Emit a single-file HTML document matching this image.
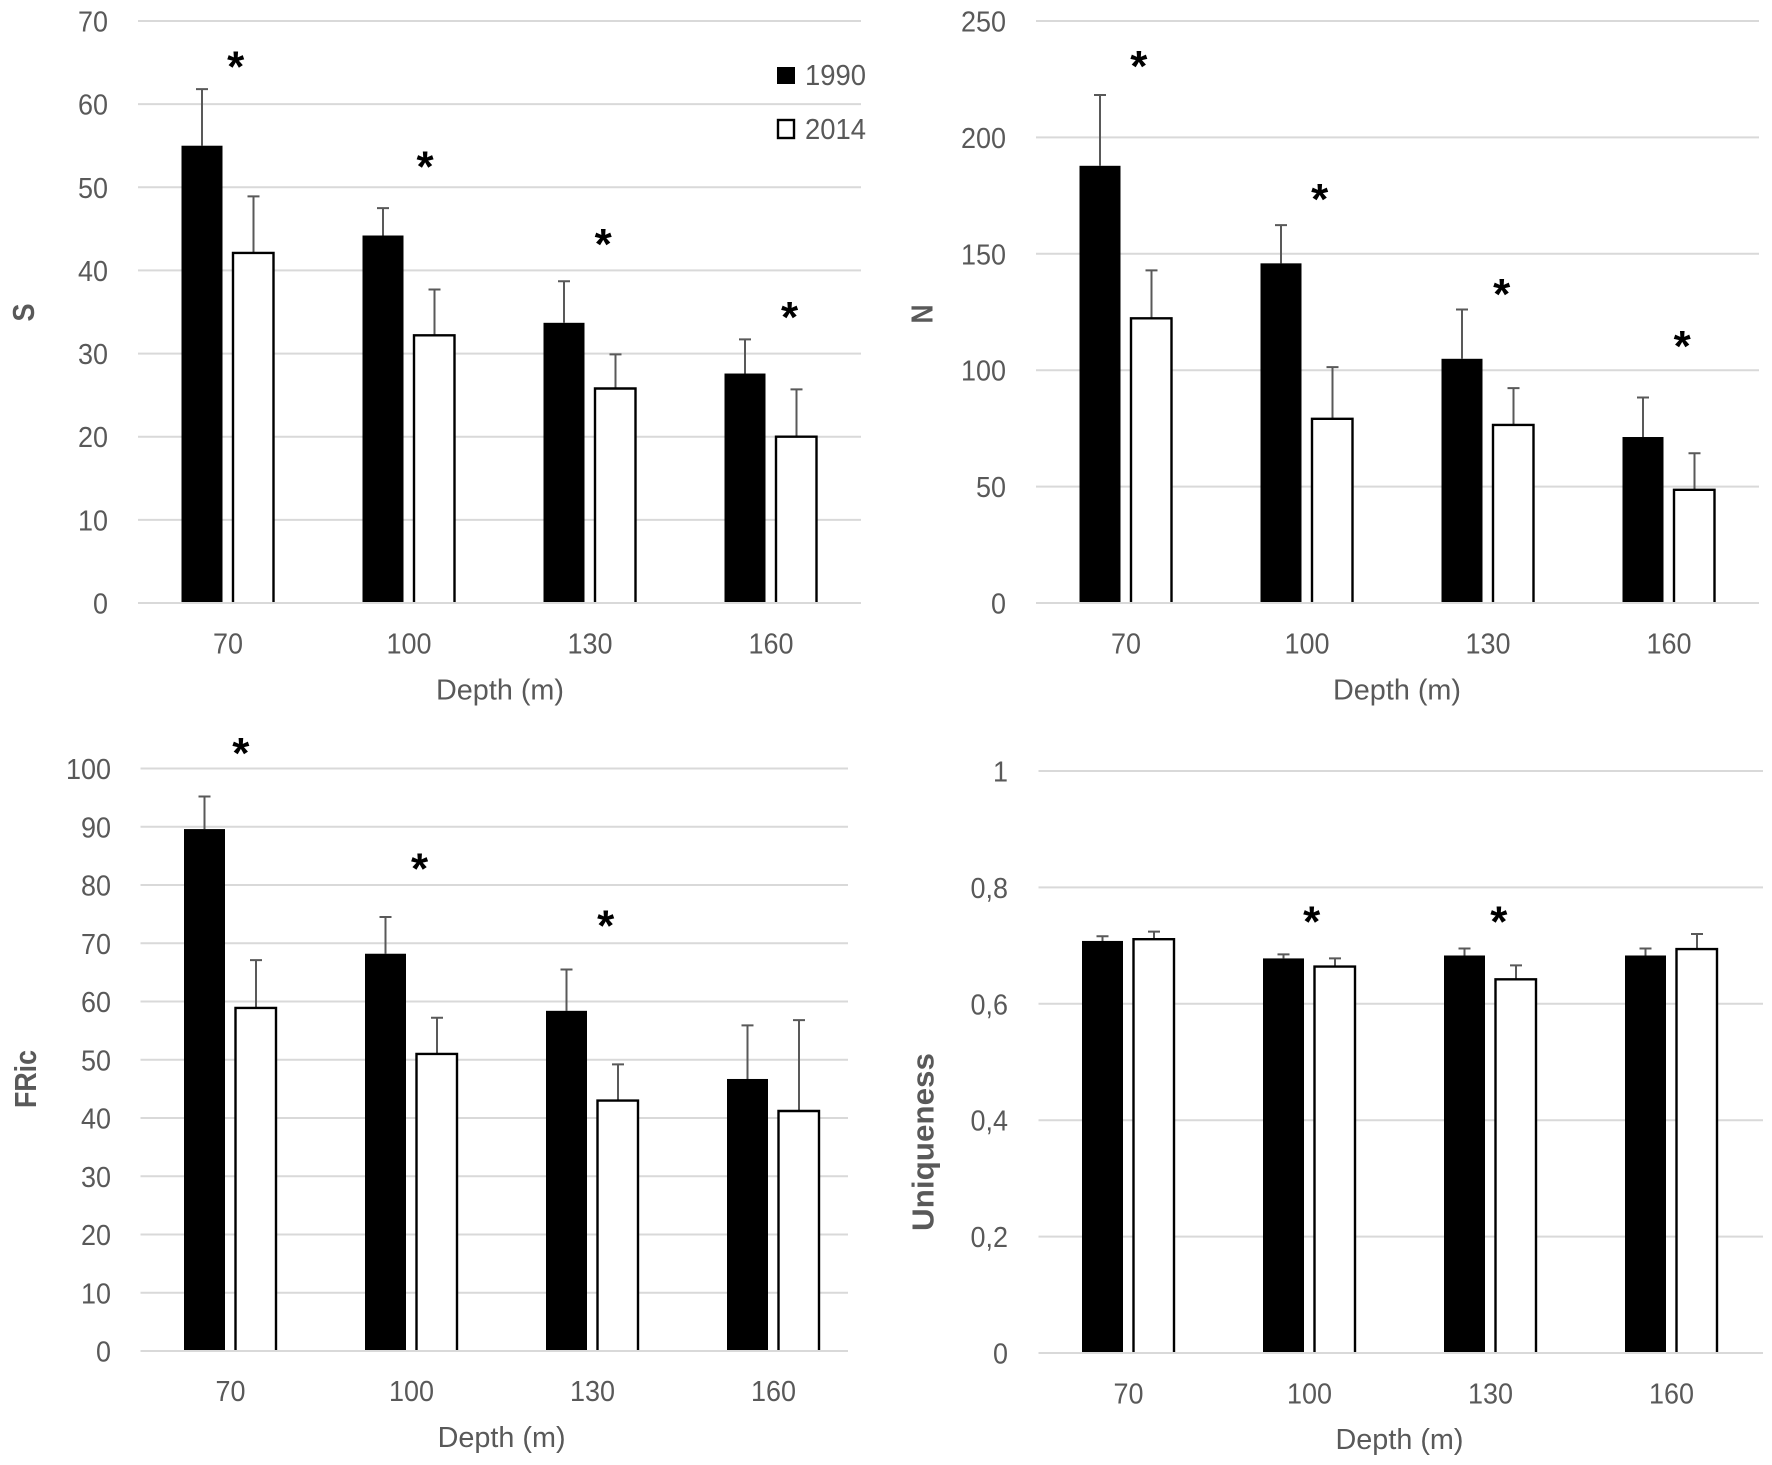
<!DOCTYPE html>
<html lang="en">
<head>
<meta charset="utf-8">
<title>Depth comparison, 1990 vs 2014</title>
<style>
html,body{margin:0;padding:0;background:#fff;}
svg{display:block;}
text{font-family:"Liberation Sans",sans-serif;fill:#595959;}
</style>
</head>
<body>
<svg id="chart" xmlns="http://www.w3.org/2000/svg" width="1772" height="1465" viewBox="0 0 1772 1465">
  <rect x="0" y="0" width="1772" height="1465" fill="#fff"/>
</svg>
<script>
// Shared category labels
const depthCategories = ["70", "100", "130", "160"];

// Panel S
const sTicks = [0, 10, 20, 30, 40, 50, 60, 70];
const sTickLabels = ["0", "10", "20", "30", "40", "50", "60", "70"];
const s1990 = [55.0, 44.2, 33.7, 27.6];
const s2014 = [42.1, 32.2, 25.8, 20.0];
const s1990ErrorTop = [61.8, 47.5, 38.7, 31.7];
const s2014ErrorTop = [48.9, 37.7, 29.9, 25.7];
const sMarkerCategory = [0.04, 1.086, 2.07, 3.10];
const sMarkerValue = [65.1, 53.1, 43.8, 35.0];

// Panel N
const nTicks = [0, 50, 100, 150, 200, 250];
const nTickLabels = ["0", "50", "100", "150", "200", "250"];
const n1990 = [187.8, 145.9, 104.9, 71.3];
const n2014 = [122.3, 79.1, 76.5, 48.6];
const n1990ErrorTop = [218.2, 162.3, 126.1, 88.3];
const n2014ErrorTop = [142.9, 101.3, 92.3, 64.3];
const nMarkerCategory = [0.068, 1.067, 2.073, 3.07];
const nMarkerValue = [232.8, 175.6, 134.8, 112.6];

// Panel FRic
const fTicks = [0, 10, 20, 30, 40, 50, 60, 70, 80, 90, 100];
const fTickLabels = ["0", "10", "20", "30", "40", "50", "60", "70", "80", "90", "100"];
const f1990 = [89.6, 68.2, 58.4, 46.7];
const f2014 = [58.9, 51.0, 43.0, 41.2];
const f1990ErrorTop = [95.2, 74.5, 65.5, 55.9];
const f2014ErrorTop = [67.1, 57.2, 49.2, 56.8];
const fMarkerCategory = [0.054, 1.042, 2.07];
const fMarkerValue = [103.5, 83.7, 73.9];

// Panel Uniqueness
const uTicks = [0, 0.2, 0.4, 0.6, 0.8, 1];
const uTickLabels = ["0", "0,2", "0,4", "0,6", "0,8", "1"];
const u1990 = [0.708, 0.678, 0.683, 0.683];
const u2014 = [0.711, 0.664, 0.642, 0.694];
const u1990ErrorTop = [0.716, 0.685, 0.695, 0.695];
const u2014ErrorTop = [0.724, 0.678, 0.666, 0.720];
const uMarkerCategory = [1.009, 2.043];
const uMarkerValue = [0.750, 0.750];

const svg = document.getElementById('chart');
const NS = 'http://www.w3.org/2000/svg';
const GREY = '#595959';

function make(tag, parent, attrs) {
  const el = document.createElementNS(NS, tag);
  for (const k in attrs) el.setAttribute(k, attrs[k]);
  parent.appendChild(el);
  return el;
}

// Labels are condensed to mimic the narrow original typeface.
function labelWidth(str) {
  let w = 0;
  for (const ch of str) w += (ch === ',') ? 7.5 : 15;
  return w;
}

function drawPanel(cfg) {
  const group = make('g', svg, {});
  
  

  const maxTick = Math.max.apply(null, cfg.ticks);
  const yScale = v => cfg.zeroY - (v / maxTick) * (cfg.zeroY - cfg.topY);
  const xCenter = i => cfg.left + cfg.band / 2 + i * cfg.band;

  // gridlines and y tick labels
  cfg.ticks.forEach((t, i) => {
    const line = make('line', group, {x1: cfg.left, x2: cfg.right, y1: yScale(t), y2: yScale(t), stroke: '#d9d9d9', 'stroke-width': 2});
    
    
    const label = make('text', group, {x: cfg.tickRight, y: yScale(t) + 10.5, 'text-anchor': 'end', 'font-size': 29, textLength: labelWidth(cfg.tickLabels[i]), lengthAdjust: 'spacingAndGlyphs'});
    
    
    label.textContent = cfg.tickLabels[i];
  });

  const barBase = cfg.zeroY - 1;
  depthCategories.forEach((cat, i) => {
    const c = xCenter(i);
    // 1990 error bar + bar
    const ex1 = c - 26.5;
    const stem1 = make('path', group, {d: 'M' + ex1 + ' ' + yScale(cfg.v1990[i]) + 'V' + yScale(cfg.e1990[i]) + 'M' + (ex1 - 6) + ' ' + yScale(cfg.e1990[i]) + 'H' + (ex1 + 6), stroke: GREY, 'stroke-width': 2, fill: 'none'});
    
    
    const bar1 = make('rect', group, {x: c - 47, y: yScale(cfg.v1990[i]), width: 41, height: barBase - yScale(cfg.v1990[i]), fill: '#000'});
    
    
    // 2014 error bar + bar
    const ex2 = c + 25;
    const stem2 = make('path', group, {d: 'M' + ex2 + ' ' + yScale(cfg.v2014[i]) + 'V' + yScale(cfg.e2014[i]) + 'M' + (ex2 - 6) + ' ' + yScale(cfg.e2014[i]) + 'H' + (ex2 + 6), stroke: GREY, 'stroke-width': 2, fill: 'none'});
    
    
    const top2 = yScale(cfg.v2014[i]);
    const bar2 = make('path', group, {d: 'M' + (c + 4.5) + ' ' + barBase + 'V' + top2 + 'H' + (c + 45) + 'V' + barBase, fill: '#fff', stroke: '#000', 'stroke-width': 2.4});
    
    
    // x tick label
    const xl = make('text', group, {x: c - 0.5, y: cfg.xTickY + 10.2, 'text-anchor': 'middle', 'font-size': 29, textLength: labelWidth(cat), lengthAdjust: 'spacingAndGlyphs'});
    
    
    xl.textContent = cat;
  });

  // significance markers
  cfg.markerCategory.forEach((m, i) => {
    const star = make('text', group, {x: xCenter(m), y: yScale(cfg.markerValue[i]) + 20, 'text-anchor': 'middle', 'font-size': 44, 'font-weight': 'bold', style: 'fill:#000'});
    
    
    star.textContent = '*';
  });

  // x axis title
  const xt = make('text', group, {x: cfg.xTitleX, y: cfg.xTitleY + 9, 'text-anchor': 'middle', 'font-size': 29, textLength: 128, lengthAdjust: 'spacingAndGlyphs'});
  
  
  xt.textContent = 'Depth (m)';

  // y axis title
  const yt = make('text', group, {transform: 'translate(' + cfg.yTitleX + ' ' + cfg.yTitleY + ') rotate(-90)', 'text-anchor': 'middle', 'font-size': 31, 'font-weight': 'bold', y: 11, textLength: cfg.yTitleLength, lengthAdjust: 'spacingAndGlyphs'});
  
  
  yt.textContent = cfg.yTitle;
}

drawPanel({key: 's', yTitle: 'S', ticks: sTicks, tickLabels: sTickLabels, v1990: s1990, v2014: s2014, e1990: s1990ErrorTop, e2014: s2014ErrorTop, markerCategory: sMarkerCategory, markerValue: sMarkerValue,
  left: 138, right: 861, band: 181, topY: 21, zeroY: 603, tickRight: 108, xTickY: 643.3, xTitleX: 500, xTitleY: 690.5, yTitleX: 23, yTitleY: 312.5, yTitleLength: 18});
drawPanel({key: 'n', yTitle: 'N', ticks: nTicks, tickLabels: nTickLabels, v1990: n1990, v2014: n2014, e1990: n1990ErrorTop, e2014: n2014ErrorTop, markerCategory: nMarkerCategory, markerValue: nMarkerValue,
  left: 1036, right: 1759, band: 181, topY: 21, zeroY: 603, tickRight: 1006, xTickY: 643.3, xTitleX: 1397, xTitleY: 690.5, yTitleX: 921.4, yTitleY: 314, yTitleLength: 19});
drawPanel({key: 'fric', yTitle: 'FRic', ticks: fTicks, tickLabels: fTickLabels, v1990: f1990, v2014: f2014, e1990: f1990ErrorTop, e2014: f2014ErrorTop, markerCategory: fMarkerCategory, markerValue: fMarkerValue,
  left: 140.5, right: 848, band: 181, topY: 768.5, zeroY: 1351, tickRight: 111, xTickY: 1390.7, xTitleX: 501.6, xTitleY: 1438, yTitleX: 25, yTitleY: 1079, yTitleLength: 58});
drawPanel({key: 'uniqueness', yTitle: 'Uniqueness', ticks: uTicks, tickLabels: uTickLabels, v1990: u1990, v2014: u2014, e1990: u1990ErrorTop, e2014: u2014ErrorTop, markerCategory: uMarkerCategory, markerValue: uMarkerValue,
  left: 1038.5, right: 1763, band: 181, topY: 771, zeroY: 1353, tickRight: 1008, xTickY: 1393.3, xTitleX: 1399.5, xTitleY: 1440, yTitleX: 922.5, yTitleY: 1142, yTitleLength: 178});
</script>
<svg xmlns="http://www.w3.org/2000/svg" width="110" height="100" viewBox="0 0 110 100" style="position:absolute;left:770px;top:55px;">
  <rect x="7" y="12" width="18" height="17" fill="#000"/>
  <text x="35" y="30" font-size="29" textLength="61" lengthAdjust="spacingAndGlyphs">1990</text>
  <rect x="8" y="65" width="16" height="18" fill="#fff" stroke="#000" stroke-width="2.4"/>
  <text x="35" y="84" font-size="29" textLength="61" lengthAdjust="spacingAndGlyphs">2014</text>
</svg>
</body>
</html>
